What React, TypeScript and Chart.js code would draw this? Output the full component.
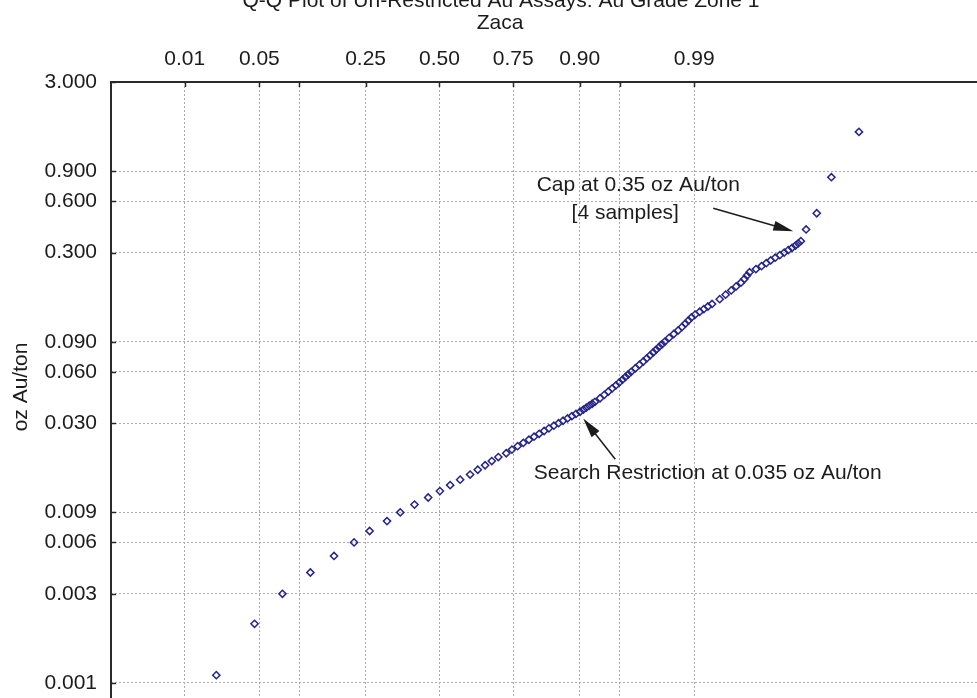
import React, { useEffect, useRef } from 'react';
import { Chart, registerables } from 'chart.js';

Chart.register(...registerables);

// Lower tail: assay grades (oz Au/ton) and their theoretical normal quantiles
const lowGrades = [0.001, 0.002, 0.003, 0.004, 0.005, 0.006, 0.007, 0.008, 0.009, 0.010,
  0.011, 0.012, 0.013, 0.014, 0.015, 0.016, 0.017, 0.018, 0.019];
const lowScores = [-2.038, -1.689, -1.434, -1.179, -0.963, -0.780, -0.638, -0.479, -0.358, -0.228,
  -0.103, 0.004, 0.098, 0.189, 0.280, 0.350, 0.417, 0.478, 0.538];

// Body of the distribution up to the 0.35 oz Au/ton cap
const bodyGrades = [0.020, 0.021, 0.022, 0.023, 0.024, 0.025, 0.026, 0.027, 0.028, 0.029,
  0.030, 0.031, 0.032, 0.033, 0.034, 0.035, 0.036, 0.037, 0.038, 0.039,
  0.040, 0.042, 0.044, 0.046, 0.048, 0.050, 0.052, 0.054, 0.056, 0.058,
  0.060, 0.063, 0.066, 0.069, 0.072, 0.075, 0.078, 0.081, 0.084, 0.087,
  0.090, 0.095, 0.100, 0.105, 0.110, 0.115, 0.120, 0.125, 0.130, 0.135,
  0.140, 0.145, 0.150, 0.160, 0.170, 0.180, 0.190, 0.200, 0.210, 0.220,
  0.230, 0.240, 0.250, 0.260, 0.270, 0.280, 0.290, 0.300, 0.310, 0.320,
  0.330, 0.340, 0.350];
const bodyScores = [0.610, 0.662, 0.714, 0.766, 0.817, 0.864, 0.911, 0.956, 1.000, 1.045,
  1.088, 1.129, 1.170, 1.210, 1.247, 1.284, 1.314, 1.341, 1.368, 1.395,
  1.420, 1.467, 1.506, 1.543, 1.578, 1.612, 1.643, 1.672, 1.699, 1.725,
  1.751, 1.790, 1.827, 1.862, 1.894, 1.924, 1.953, 1.980, 2.006, 2.032,
  2.057, 2.098, 2.140, 2.181, 2.216, 2.246, 2.274, 2.302, 2.336, 2.377,
  2.415, 2.452, 2.490, 2.560, 2.614, 2.665, 2.710, 2.754, 2.785, 2.809,
  2.832, 2.891, 2.942, 2.985, 3.026, 3.067, 3.109, 3.149, 3.186, 3.221,
  3.252, 3.277, 3.301];

// The four samples above the cap
const capGrades = [0.41, 0.51, 0.83, 1.53];
const capScores = [3.349, 3.446, 3.580, 3.832];

// Top axis: cumulative probabilities (two ticks carry no label)
const probabilityTicks = [0.01, 0.05, 0.10, 0.25, 0.50, 0.75, 0.90, 0.95, 0.99];
const probabilityLabels = ['0.01', '0.05', '', '0.25', '0.50', '0.75', '0.90', '', '0.99'];

// Left axis: grade ticks, printed with three decimals
const gradeTicks = [3, 0.9, 0.6, 0.3, 0.09, 0.06, 0.03, 0.009, 0.006, 0.003, 0.0009];

const TITLE = 'Q-Q Plot of Un-Restricted Au Assays: Au Grade Zone 1';
const SUBTITLE = 'Zaca';
const Y_TITLE = 'oz Au/ton';

const FONT_FAMILY = '"Liberation Sans", Arial, Helvetica, sans-serif';
const FONT = `21px ${FONT_FAMILY}`;
const INK = '#1c1c1c';
const MARKER = '#24248c';
const GRID = '#ababab';

// Acklam's rational approximation of the inverse standard normal CDF
function normalQuantile(p: number): number {
  const a = [-3.969683028665376e1, 2.209460984245205e2, -2.759285104469687e2, 1.38357751867269e2, -3.066479806614716e1, 2.506628277459239];
  const b = [-5.447609879822406e1, 1.615858368580409e2, -1.556989798598866e2, 6.680131188771972e1, -1.328068155288572e1];
  const c = [-7.784894002430293e-3, -3.223964580411365e-1, -2.400758277161838, -2.549732539343734, 4.374664141464968, 2.938163982698783];
  const d = [7.784695709041462e-3, 3.224671290700398e-1, 2.445134137142996, 3.754408661907416];
  const lo = 0.02425;
  if (p < lo) {
    const q = Math.sqrt(-2 * Math.log(p));
    return (((((c[0] * q + c[1]) * q + c[2]) * q + c[3]) * q + c[4]) * q + c[5]) /
      ((((d[0] * q + d[1]) * q + d[2]) * q + d[3]) * q + 1);
  }
  if (p > 1 - lo) {
    const q = Math.sqrt(-2 * Math.log(1 - p));
    return -(((((c[0] * q + c[1]) * q + c[2]) * q + c[3]) * q + c[4]) * q + c[5]) /
      ((((d[0] * q + d[1]) * q + d[2]) * q + d[3]) * q + 1);
  }
  const q = p - 0.5;
  const r = q * q;
  return (((((a[0] * r + a[1]) * r + a[2]) * r + a[3]) * r + a[4]) * r + a[5]) * q /
    (((((b[0] * r + b[1]) * r + b[2]) * r + b[3]) * r + b[4]) * r + 1);
}

function drawArrow(ctx: CanvasRenderingContext2D, x0: number, y0: number, x1: number, y1: number) {
  const ang = Math.atan2(y1 - y0, x1 - x0);
  const len = 20;
  const hw = 5;
  const bx = x1 - len * Math.cos(ang);
  const by = y1 - len * Math.sin(ang);
  ctx.beginPath();
  ctx.moveTo(x0, y0);
  ctx.lineTo(bx + 2 * Math.cos(ang), by + 2 * Math.sin(ang));
  ctx.stroke();
  ctx.beginPath();
  ctx.moveTo(x1, y1);
  ctx.lineTo(bx + hw * Math.sin(ang), by - hw * Math.cos(ang));
  ctx.lineTo(bx - hw * Math.sin(ang), by + hw * Math.cos(ang));
  ctx.closePath();
  ctx.fill();
}

// Frame, inward tick marks, titles and the two call-outs
const decorations = {
  id: 'decorations',
  beforeDatasetsDraw(chart: any) {
    const { ctx, chartArea: a, scales } = chart;
    ctx.save();
    ctx.strokeStyle = '#2a2a2a';
    ctx.lineWidth = 2;
    ctx.beginPath();
    ctx.moveTo(a.left, a.bottom + 2);
    ctx.lineTo(a.left, a.top);
    ctx.lineTo(a.right + 2, a.top);
    ctx.stroke();
    ctx.lineWidth = 1.5;
    ctx.beginPath();
    scales.x.ticks.forEach((t: any) => {
      const px = Math.round(scales.x.getPixelForValue(t.value)) + 0.5;
      ctx.moveTo(px, a.top);
      ctx.lineTo(px, a.top + 5);
    });
    scales.y.ticks.forEach((t: any) => {
      const py = Math.round(scales.y.getPixelForValue(t.value)) + 0.5;
      ctx.moveTo(a.left, py);
      ctx.lineTo(a.left + 5, py);
    });
    ctx.stroke();
    ctx.restore();
  },
  afterDraw(chart: any) {
    const { ctx, chartArea: a, scales } = chart;
    const X = (z: number) => scales.x.getPixelForValue(z);
    const Y = (v: number) => scales.y.getPixelForValue(v);
    ctx.save();
    ctx.fillStyle = INK;
    ctx.strokeStyle = INK;
    ctx.font = FONT;
    ctx.textAlign = 'center';

    ctx.textBaseline = 'alphabetic';
    ctx.fillText(TITLE, 501, 7);
    ctx.textBaseline = 'middle';
    ctx.fillText(SUBTITLE, 500, 23);

    ctx.save();
    ctx.translate(21, (a.top + a.bottom) / 2 - 3);
    ctx.rotate(-Math.PI / 2);
    ctx.fillText(Y_TITLE, 0, 0);
    ctx.restore();

    ctx.fillText('Cap at 0.35 oz Au/ton', X(1.816), Y(0.744));
    ctx.fillText('[4 samples]', X(1.697), Y(0.51));
    ctx.fillText('Search Restriction at 0.035 oz Au/ton', X(2.451), Y(0.01526));

    ctx.lineWidth = 1.5;
    drawArrow(ctx, X(2.501), Y(0.5455), X(3.232), Y(0.4));
    drawArrow(ctx, X(1.606), Y(0.01842), X(1.313), Y(0.032));
    ctx.restore();
  },
};

export default function App() {
  const canvasRef = useRef<HTMLCanvasElement | null>(null);

  useEffect(() => {
    const canvas = canvasRef.current;
    if (!canvas) return;

    const grades = [...lowGrades, ...bodyGrades, ...capGrades];
    const scores = [...lowScores, ...bodyScores, ...capScores];
    const points = grades.map((g, i) => ({ x: scores[i], y: g }));

    const chart = new Chart(canvas, {
      type: 'scatter',
      data: {
        datasets: [
          {
            label: 'Au assays',
            data: points,
            pointStyle: 'rectRot',
            pointRadius: 3.6,
            pointBorderWidth: 1.5,
            pointBorderColor: MARKER,
            pointBackgroundColor: 'rgba(255,255,255,0)',
          },
        ],
      },
      options: {
        responsive: false,
        devicePixelRatio: 1,
        animation: false,
        layout: { padding: 0, autoPadding: false },
        plugins: {
          legend: { display: false },
          tooltip: { enabled: false },
          title: { display: false },
        },
        scales: {
          x: {
            type: 'linear',
            position: 'top',
            min: -3,
            max: 4.91,
            afterBuildTicks: (scale: any) => {
              scale.ticks = probabilityTicks.map((p) => ({ value: normalQuantile(p) }));
            },
            afterFit: (scale: any) => {
              scale.height = 82;
              scale.paddingLeft = 0;
              scale.paddingRight = 0;
              scale.paddingTop = 0;
              scale.paddingBottom = 0;
            },
            ticks: {
              autoSkip: false,
              maxRotation: 0,
              padding: 10,
              color: INK,
              font: { family: FONT_FAMILY, size: 21 },
              callback: (_v: any, i: number) => probabilityLabels[i],
            },
            grid: { color: GRID, lineWidth: 1, drawTicks: false },
            border: { display: false, dash: [2, 2] },
          },
          y: {
            type: 'logarithmic',
            position: 'left',
            min: 0.000735,
            max: 3,
            afterBuildTicks: (scale: any) => {
              scale.ticks = gradeTicks.map((v) => ({ value: v }));
            },
            afterFit: (scale: any) => {
              scale.width = 111;
              scale.paddingLeft = 0;
              scale.paddingRight = 0;
              scale.paddingTop = 0;
              scale.paddingBottom = 0;
            },
            ticks: {
              autoSkip: false,
              padding: 14,
              color: INK,
              font: { family: FONT_FAMILY, size: 21 },
              callback: (v: any) => Number(v).toFixed(3),
            },
            grid: { color: GRID, lineWidth: 1, drawTicks: false },
            border: { display: false, dash: [2, 2] },
          },
        },
      },
      plugins: [decorations],
    });

    return () => chart.destroy();
  }, []);

  return (
    <div style={{ position: 'fixed', left: 0, top: 0, width: 977, height: 698, background: '#fff' }}>
      <canvas ref={canvasRef} width={977} height={698} style={{ display: 'block' }} />
    </div>
  );
}
